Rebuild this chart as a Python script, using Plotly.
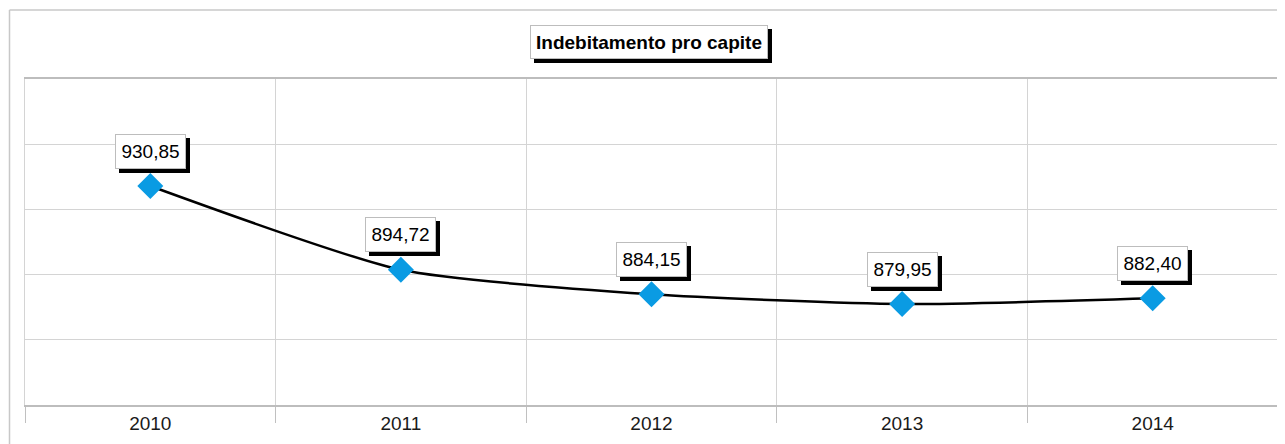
import plotly.graph_objects as go

years = ["2010", "2011", "2012", "2013", "2014"]
values = [930.85, 894.72, 884.15, 879.95, 882.40]
labels = ["930,85", "894,72", "884,15", "879,95", "882,40"]
title_text = "Indebitamento pro capite"

FONT = "Liberation Sans, Arial, sans-serif"
GRID = "#d4d4d4"
OFF = 8  # browser default body margin

fig = go.Figure()
fig.add_trace(go.Scatter(
    x=years, y=values, mode="lines+markers",
    line=dict(color="black", width=2.5, shape="spline", smoothing=0.6),
    marker=dict(symbol="diamond", size=20, color="#0a9be3", line=dict(width=0)),
    hoverinfo="skip", showlegend=False,
))

annotations = []
for i, (v, lab) in enumerate(zip(values, labels)):
    # shadow box (no text)
    annotations.append(dict(
        x=i, y=v, xref="x", yref="y", text="&nbsp;", showarrow=False,
        font=dict(family=FONT, size=19, color="black"),
        bgcolor="black", bordercolor="black", borderwidth=1, borderpad=3,
        width=63, height=27, xshift=4, yshift=31,
    ))
    annotations.append(dict(
        x=i, y=v, xref="x", yref="y", text=lab, showarrow=False,
        font=dict(family=FONT, size=19, color="black"),
        bgcolor="white", bordercolor="#bdbdbd", borderwidth=1, borderpad=3,
        width=63, height=27, xshift=0, yshift=35,
    ))

# title box with shadow
PL, PR, PT, PB = 25 - OFF, 1278 - OFF, 79 - OFF, 405 - OFF
PW, PH = PR - PL, PB - PT
tx = (649 - OFF - PL) / PW
ty = (PB - (42 - OFF)) / PH
for shadow in (True, False):
    annotations.append(dict(
        x=tx, y=ty, xref="paper", yref="paper", xanchor="center", yanchor="middle",
        text="&nbsp;" if shadow else "<b>" + title_text + "</b>", showarrow=False,
        font=dict(family=FONT, size=19, color="black"),
        bgcolor="black" if shadow else "white",
        bordercolor="black" if shadow else "#bdbdbd",
        borderwidth=1, borderpad=3, width=230, height=26,
        xshift=4 if shadow else 0, yshift=-4 if shadow else 0,
    ))

# outer frame (left and top edges)
x_left = (9.5 - OFF - PL) / PW
y_top = (PB - (10 - OFF)) / PH
shapes = [
    dict(type="line", xref="paper", yref="paper", x0=x_left, x1=x_left,
         y0=y_top, y1=-0.2, line=dict(color="#c8c8c8", width=1.5)),
    dict(type="line", xref="paper", yref="paper", x0=x_left, x1=1.1,
         y0=y_top, y1=y_top, line=dict(color="#c8c8c8", width=1.5)),
]

fig.update_layout(
    width=1277, height=436,
    margin=dict(l=PL, r=1277 - PR, t=PT, b=436 - PB),
    paper_bgcolor="white", plot_bgcolor="white",
    annotations=annotations, shapes=shapes,
    xaxis=dict(
        type="category", range=[-0.5, 4.5], tickson="boundaries",
        showgrid=True, gridcolor=GRID, gridwidth=1,
        ticks="outside", ticklen=16, tickcolor="#c0c0c0", tickwidth=1,
        showline=True, linecolor="#bdbdbd", linewidth=1.5, mirror=True,
        tickfont=dict(family=FONT, size=19, color="#1a1a1a"),
        fixedrange=True,
    ),
    yaxis=dict(
        range=[836.4, 977.0], tick0=836.4, dtick=28.12,
        showgrid=True, gridcolor=GRID, gridwidth=1,
        showticklabels=False, zeroline=False, ticks="",
        showline=True, linecolor=GRID, mirror=True,
        fixedrange=True,
    ),
)

fig.write_html("out.html")
